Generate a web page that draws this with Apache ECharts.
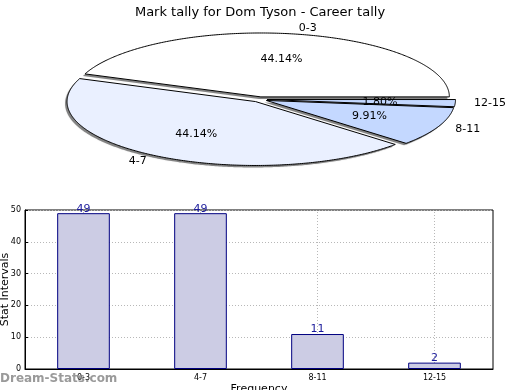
<!DOCTYPE html>
<html><head><meta charset="utf-8">
<script src="https://cdn.jsdelivr.net/npm/echarts@6/dist/echarts.min.js"></script>
<style>html,body{margin:0;padding:0;background:#fff}#c{width:520px;height:390px}</style>
</head><body><div id="c"></div>
<script>
const titleText = 'Mark tally for Dom Tyson - Career tally';
const categories = ['0-3', '4-7', '8-11', '12-15'];
const barValues = [49, 49, 11, 2];
const pieValues = [49, 49, 11, 2];
const pieColors = ['#ffffff', '#eaf0ff', '#c4d8ff', '#c4d8ff'];

const total = pieValues.reduce((a, b) => a + b, 0);
const starts = [];
let acc = 0;
pieValues.forEach(v => { starts.push(acc / total * 2 * Math.PI); acc += v; });
const explode = 0.04;
const font = '"DejaVu Sans", sans-serif';

function renderSlice(params, api) {
  const i = params.dataIndex;
  const v = pieValues[i];
  const a0 = starts[i];
  const a1 = a0 + v / total * 2 * Math.PI;
  const mid = (a0 + a1) / 2;
  const ex = explode * Math.cos(mid), ey = explode * Math.sin(mid);
  const pts = [api.coord([ex, ey])];
  const n = Math.max(4, Math.ceil((a1 - a0) / 0.01));
  for (let k = 0; k <= n; k++) {
    const t = a0 + (a1 - a0) * k / n;
    pts.push(api.coord([ex + Math.cos(t), ey + Math.sin(t)]));
  }
  const pctPos = api.coord([ex + 0.6 * Math.cos(mid), ey + 0.6 * Math.sin(mid)]);
  const lblPos = api.coord([ex + 1.1 * Math.cos(mid), ey + 1.1 * Math.sin(mid)]);
  const pct = (v / total * 100).toFixed(2) + '%';
  return {
    type: 'group',
    children: [
      { type: 'polygon', shape: { points: pts }, x: -2, y: 2, z2: 0,
        style: { fill: 'rgba(0,0,0,0.42)', stroke: 'none',
                 shadowColor: 'rgba(0,0,0,0.3)', shadowBlur: 1.5 } },
      { type: 'polygon', shape: { points: pts }, z2: 5,
        style: { fill: pieColors[i], stroke: '#000', lineWidth: 1 } },
      { type: 'text', x: pctPos[0], y: pctPos[1], z2: 10,
        style: { text: pct, fill: '#000', fontSize: 11, fontFamily: font, align: 'center', verticalAlign: 'middle' } },
      { type: 'text', x: lblPos[0], y: lblPos[1], z2: 10,
        style: { text: categories[i], fill: '#000', fontSize: 11, fontFamily: font,
                 align: Math.cos(mid) > 0 ? 'left' : 'right', verticalAlign: 'middle' } }
    ]
  };
}

const chart = echarts.init(document.getElementById('c'), null, { renderer: 'canvas' });
chart.setOption({
  animation: false,
  backgroundColor: '#fff',
  textStyle: { fontFamily: font },
  title: { text: titleText, left: 'center', top: 1,
    textStyle: { fontSize: 13, fontWeight: 'normal', color: '#000', fontFamily: font } },
  graphic: [{ type: 'text', left: 0, top: 373, z: 100,
    style: { text: 'Dream-Stats.com', fill: 'rgba(120,120,120,0.75)', fontSize: 12, fontWeight: 'bold', fontFamily: font } }],
  grid: [
    { left: 25, right: 27, top: 210, bottom: 21, show: true, borderColor: '#000', borderWidth: 1,
      backgroundColor: 'transparent', containLabel: false, outerBoundsMode: 'none' },
    { left: 71, right: 72, top: 35.5, bottom: 226.7, containLabel: false, outerBoundsMode: 'none' }
  ],
  xAxis: [
    { type: 'category', gridIndex: 0, data: categories,
      name: 'Frequency', nameLocation: 'middle', nameGap: 15, nameMoveOverlap: false,
      nameTextStyle: { fontSize: 11, color: '#000' },
      axisLine: { lineStyle: { color: '#000' } },
      axisTick: { inside: true, alignWithLabel: true, length: 3, lineStyle: { color: '#000' } },
      axisLabel: { fontSize: 8, color: '#000', margin: 5 },
      splitLine: { show: false } },
    { type: 'value', gridIndex: 1, min: -1, max: 1, show: false }
  ],
  yAxis: [
    { type: 'value', gridIndex: 0, min: 0, max: 50, interval: 10,
      name: 'Stat Intervals', nameLocation: 'middle', nameGap: 14, nameMoveOverlap: false,
      nameTextStyle: { fontSize: 11, color: '#000' },
      axisLine: { show: true, lineStyle: { color: '#000' } },
      axisTick: { show: true, inside: true, length: 3, lineStyle: { color: '#000' } },
      axisLabel: { fontSize: 8, color: '#000', margin: 4 },
      splitLine: { show: true, lineStyle: { color: '#b8b8b8', type: [1, 2], width: 1 } } },
    { type: 'value', gridIndex: 1, min: -1, max: 1, show: false }
  ],
  series: [
    { type: 'bar', xAxisIndex: 0, yAxisIndex: 0, data: barValues, barWidth: '45%',
      itemStyle: { color: '#ccccE4', borderColor: '#000080', borderWidth: 1 },
      label: { show: true, position: 'top', distance: -1, fontSize: 11, color: '#1a1a9a', fontFamily: font },
      markLine: { silent: true, symbol: 'none', label: { show: false }, z: 1,
        lineStyle: { color: '#b8b8b8', type: [1, 2], width: 1 },
        data: categories.map(c => ({ xAxis: c })) } },
    { type: 'custom', xAxisIndex: 1, yAxisIndex: 1, renderItem: renderSlice,
      data: pieValues.map(() => [0, 0]) }
  ]
});
</script></body></html>
